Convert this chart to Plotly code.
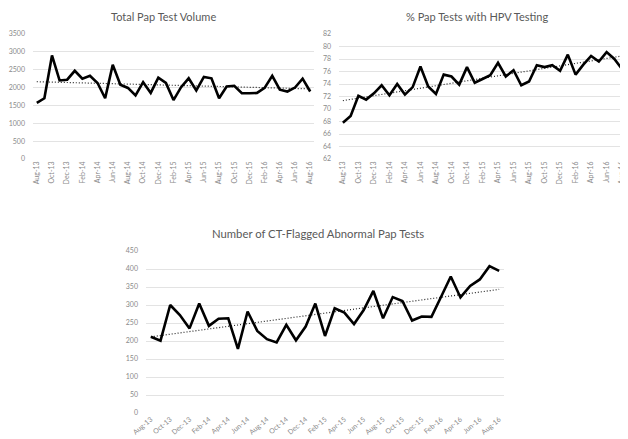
import numpy as np
import plotly.graph_objects as go

months = ["Aug-13","Sep-13","Oct-13","Nov-13","Dec-13","Jan-14","Feb-14","Mar-14","Apr-14","May-14",
          "Jun-14","Jul-14","Aug-14","Sep-14","Oct-14","Nov-14","Dec-14","Jan-15","Feb-15","Mar-15",
          "Apr-15","May-15","Jun-15","Jul-15","Aug-15","Sep-15","Oct-15","Nov-15","Dec-15","Jan-16",
          "Feb-16","Mar-16","Apr-16","May-16","Jun-16","Jul-16","Aug-16"]

pap_volume = [1570, 1700, 2900, 2200, 2220, 2470, 2250, 2330, 2130, 1700,
              2640, 2080, 1990, 1780, 2150, 1850, 2280, 2130, 1650, 2010,
              2260, 1920, 2300, 2260, 1700, 2030, 2050, 1840, 1840, 1850,
              1990, 2330, 1940, 1890, 2000, 2250, 1890]

pct_hpv = [67.8, 68.9, 72.1, 71.5, 72.5, 73.8, 72.2, 74.0, 72.3, 73.5,
           76.8, 73.6, 72.4, 75.5, 75.2, 73.9, 76.7, 74.2, 74.8, 75.4,
           77.4, 75.2, 76.2, 73.8, 74.4, 77.0, 76.7, 77.0, 76.1, 78.7,
           75.5, 77.1, 78.5, 77.6, 79.1, 78.0, 76.4]

ct_flagged = [212, 201, 300, 272, 235, 304, 242, 262, 263, 178,
              282, 228, 205, 196, 245, 202, 240, 304, 214, 291,
              279, 247, 286, 339, 263, 322, 311, 257, 268, 267,
              323, 379, 321, 353, 371, 408, 395]

titles = ["Total Pap Test Volume", "% Pap Tests with HPV Testing", "Number of CT-Flagged Abnormal Pap Tests"]

x = np.arange(len(months))
tick_idx = list(range(0, len(months), 2))
tick_txt = [months[i] for i in tick_idx]

fig = go.Figure()
series = [pap_volume, pct_hpv, ct_flagged]
for k, ys in enumerate(series):
    ax = "" if k == 0 else str(k + 1)
    coef = np.polyfit(x, ys, 1)
    trend = np.polyval(coef, x)
    fig.add_trace(go.Scatter(x=x, y=trend, mode="lines", xaxis="x" + ax, yaxis="y" + ax,
                             line=dict(color="#222222", width=1.2, dash="1px,2px"), showlegend=False,
                             hoverinfo="skip"))
    fig.add_trace(go.Scatter(x=x, y=ys, mode="lines", xaxis="x" + ax, yaxis="y" + ax,
                             line=dict(color="#000000", width=2.6), showlegend=False))

tickfont = dict(family="Lato, Liberation Sans, sans-serif", size=7, color="#8a8a8a")
grid = "#e3e3e3"

# the page body has an 8px margin; the figure is sized to fill the rest of the window
W, H, OFF = 620, 431, 8

def fx(px):
    return (px - OFF) / W

def fy(py):
    return 1 - (py - OFF) / H

def xaxis(domain, anchor, angle):
    return dict(domain=domain, anchor=anchor, range=[-0.5, len(months) - 0.5],
                tickmode="array", tickvals=tick_idx, ticktext=tick_txt, tickangle=angle,
                tickfont=tickfont, showgrid=False, zeroline=False, showline=False, ticks="",
                automargin=False, ticklabeloverflow="allow")

def yaxis(domain, anchor, rng, dtick):
    return dict(domain=domain, anchor=anchor, range=rng, dtick=dtick, tick0=rng[0],
                tickfont=tickfont, showgrid=True, gridcolor=grid, gridwidth=1,
                zeroline=False, showline=False, ticks="", ticklabelstandoff=7,
                automargin=False, ticklabeloverflow="allow")

title_font_small = dict(family="Lato, sans-serif", size=11, color="#595959")
title_font_big = dict(family="Lato, sans-serif", size=11.3, color="#595959")

fig.update_layout(
    width=W, height=H, margin=dict(l=0, r=0, t=0, b=0),
    paper_bgcolor="white", plot_bgcolor="white",
    xaxis=xaxis([fx(33), fx(314)], "y", -90),
    yaxis=yaxis([fy(159), fy(34)], "x", [0, 3500], 500),
    xaxis2=xaxis([fx(339), fx(626)], "y2", -90),
    yaxis2=yaxis([fy(159), fy(34)], "x2", [62, 82], 2),
    xaxis3=xaxis([fx(146), fx(504)], "y3", -40),
    yaxis3=yaxis([fy(413), fy(251)], "x3", [0, 450], 50),
    annotations=[
        dict(text=titles[0], x=fx(163), y=fy(16), xref="paper", yref="paper",
             xanchor="center", yanchor="middle", showarrow=False, font=title_font_small),
        dict(text=titles[1], x=fx(477), y=fy(16), xref="paper", yref="paper",
             xanchor="center", yanchor="middle", showarrow=False, font=title_font_small),
        dict(text=titles[2], x=fx(318), y=fy(233), xref="paper", yref="paper",
             xanchor="center", yanchor="middle", showarrow=False, font=title_font_big),
    ],
)

fig.write_html("out.html")
